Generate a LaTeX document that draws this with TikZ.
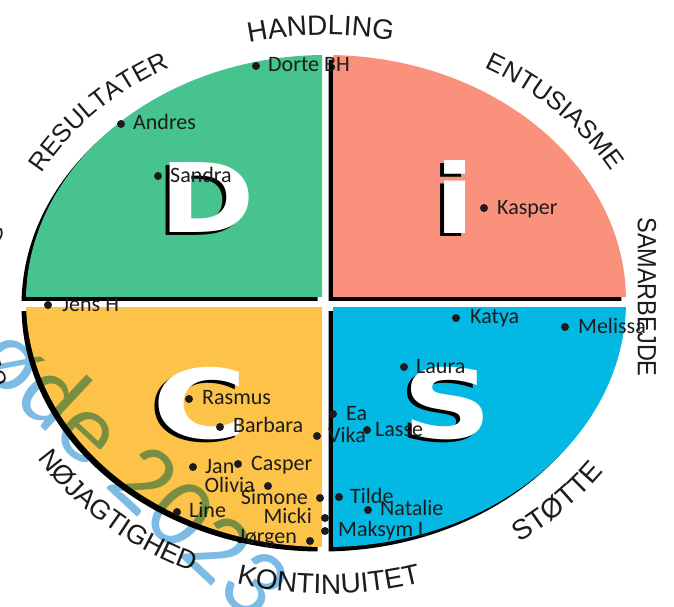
\documentclass[tikz,border=0pt]{standalone}
\usepackage{fontspec}
\setmainfont{Carlito}
\newfontfamily\lblfont{Liberation Sans}
\newfontfamily\bigfont{DejaVu Sans}
\usetikzlibrary{decorations.text}
\definecolor{qD}{RGB}{70,195,143}
\definecolor{qI}{RGB}{250,145,125}
\definecolor{qC}{RGB}{253,194,72}
\definecolor{qS}{RGB}{4,184,228}
\definecolor{ink}{RGB}{28,28,28}
\definecolor{wmc}{RGB}{100,176,224}
\newcommand\lbl[1]{\lblfont\fontsize{#1}{#1}\selectfont}
\newcommand\quadshadow[2]{%
  \begin{scope}[shift={(-4.5,-4.5)}]
    \clip #1 rectangle #2;
    \fill[black] (326,-301) ellipse[x radius=300, y radius=246];
  \end{scope}}
\newcommand\quadfill[3]{%
  \begin{scope}
    \clip #1 rectangle #2;
    \fill[#3] (326,-301) ellipse[x radius=300, y radius=246];
  \end{scope}}
\tikzset{
  pdot/.style={circle, fill=ink, inner sep=0pt, minimum size=8pt},
  pname/.style={font=\fontsize{22}{24}\selectfont, text=ink, inner sep=0pt, anchor=base west},
  pnameR/.style={pname, anchor=base east},
  bigL/.style={font=\bigfont\bfseries\fontsize{96}{96}\selectfont, inner sep=0pt, text=white},
  bigSh/.style={bigL, text=black},
  wmark/.style={font=\fontsize{100}{100}\selectfont, text=wmc, inner sep=0pt, rotate=-43},
}
\begin{document}
\begin{tikzpicture}[x=1pt,y=1pt]
\useasboundingbox (0,0) rectangle (674,-606);
\clip (0,0) rectangle (674,-606);
\fill[white] (0,0) rectangle (674,-606);

% quadrant shadows
\quadshadow{(0,0)}{(322,-296)}
\quadshadow{(333,0)}{(680,-296)}
\quadshadow{(0,-307)}{(322,-620)}
\quadshadow{(333,-307)}{(680,-620)}
% quadrant fills
\quadfill{(0,0)}{(322,-296)}{qD}
\quadfill{(333,0)}{(680,-296)}{qI}
\quadfill{(0,-307)}{(322,-620)}{qC}
\quadfill{(333,-307)}{(680,-620)}{qS}

% big letters
\node[bigSh] (Dsh) at (203.5,-200.5) {\scalebox{1.2}[1]{D}};
\node[bigL]  (D)   at (207.5,-197.5) {\scalebox{1.2}[1]{D}};
\node[bigSh] (Ish) at (451.5,-200.5) {\scalebox{1.25}[1]{i}};
\node[bigL]  (I)   at (455.5,-197.5) {\scalebox{1.25}[1]{i}};
\node[bigSh] (Csh) at (196.5,-407) {\scalebox{1.35}[1]{C}};
\node[bigL]  (C)   at (200.5,-404) {\scalebox{1.35}[1]{C}};
\node[bigSh] (Ssh) at (443.5,-406.5) {\scalebox{1.3}[1]{S}};
\node[bigL]  (S)   at (447.5,-403.5) {\scalebox{1.3}[1]{S}};

% curved labels (outward)
\path[decorate, decoration={text along path, text align=center, text color=ink, text={|\lbl{28}|HANDLING}}]
  ([shift={(126:322 and 266)}]326,-301) arc[start angle=126, end angle=56, x radius=322, y radius=266];
\path[decorate, decoration={text along path, text align=center, text color=ink, text={|\lbl{25.5}|RESULTATER}}]
  ([shift={(177:324 and 267)}]326,-301) arc[start angle=177, end angle=97, x radius=324, y radius=267];
\path[decorate, decoration={text along path, text align=center, text color=ink, text={|\lbl{25.5}|ENTUSIASME}}]
  ([shift={(83:326 and 267)}]326,-301) arc[start angle=83, end angle=3, x radius=326, y radius=267];
\node[font=\lbl{23.5}, text=ink, inner sep=0pt, rotate=-90] (sam) at (647,-297) {\scalebox{1}[1.12]{SAMARBEJDE}};
\path[decorate, decoration={text along path, text align=center, text color=ink, text={|\lbl{23.5}|UDFORDRING}}]
  ([shift={(217:334 and 262)}]326,-301) arc[start angle=217, end angle=145, x radius=334, y radius=262];
% curved labels (inward)
\path[decorate, decoration={text along path, text align=center, text color=ink, text={|\lbl{28}|KONTINUITET}}]
  ([shift={(235.5:340 and 293)}]326,-301) arc[start angle=235.5, end angle=305.5, x radius=340, y radius=293];
\path[decorate, decoration={text along path, text align=center, text color=ink, text={|\lbl{28}|STØTTE}}]
  ([shift={(290:342 and 292)}]326,-301) arc[start angle=290, end angle=340, x radius=342, y radius=292];
\path[decorate, decoration={text along path, text align=center, text color=ink, text={|\lbl{27}|NØJAGTIGHED}}]
  ([shift={(199:341 and 294)}]326,-301) arc[start angle=199, end angle=259, x radius=341, y radius=294];

% people
\node[pdot] (d1) at (256,-66) {};    \node[pname] (n1) at (268,-71.5) {Dorte BH};
\node[pdot] (d2) at (121,-124) {};   \node[pname] (n2) at (133,-129.5) {Andres};
\node[pdot] (d3) at (158,-176) {};   \node[pname] (n3) at (170,-182) {Sandra};
\node[pdot] (d4) at (484,-208) {};   \node[pname] (n4) at (497,-214) {Kasper};
\node[pdot] (d5) at (48,-305) {};    \node[pname] (n5) at (62,-311) {Jens H};
\node[pdot] (d6) at (456,-318) {};   \node[pname] (n6) at (470,-323.5) {Katya};
\node[pdot] (d7) at (565,-327) {};   \node[pname] (n7) at (578,-333) {Melissa};
\node[pdot] (d8) at (404,-367) {};   \node[pname] (n8) at (416,-373) {Laura};
\node[pdot] (d9) at (189,-399) {};   \node[pname] (n9) at (202,-404.5) {Rasmus};
\node[pdot] (d10) at (220,-427) {};  \node[pname] (n10) at (233,-432.5) {Barbara};
\node[pdot] (d11) at (333,-414) {};  \node[pname] (n11) at (346,-420) {Ea};
\node[pdot] (d12) at (317,-436) {};  \node[pname] (n12) at (328,-442.5) {Vika};
\node[pdot] (d13) at (367,-430) {};  \node[pname] (n13) at (375,-436) {Lasse};
\node[pdot] (d14) at (193,-467) {};  \node[pname] (n14) at (205,-473.5) {Jan};
\node[pdot] (d15) at (238,-464) {};  \node[pname] (n15) at (251,-470) {Casper};
\node[pdot] (d16) at (268,-486) {};  \node[pnameR] (n16) at (255,-492) {Olivia};
\node[pdot] (d17) at (320,-498) {};  \node[pnameR] (n17) at (308,-504) {Simone};
\node[pdot] (d18) at (339,-497) {};  \node[pname] (n18) at (350,-503) {Tilde};
\node[pdot] (d19) at (368,-510) {};  \node[pname] (n19) at (380,-515.5) {Natalie};
\node[pdot] (d20) at (177,-512) {};  \node[pname] (n20) at (189,-517) {Line};
\node[pdot] (d21) at (325,-518) {};  \node[pnameR] (n21) at (312,-523) {Micki};
\node[pdot] (d22) at (325,-531) {};  \node[pname] (n22) at (338,-536.5) {Maksym L};
\node[pdot] (d23) at (310,-541) {};  \node[pnameR] (n23) at (297,-543) {Jørgen};

% watermark
\begin{scope}[blend mode=multiply, opacity=0.85]
  \node[wmark] (wm) at (106,-443) {møde 2023};
\end{scope}
\end{tikzpicture}
\end{document}
